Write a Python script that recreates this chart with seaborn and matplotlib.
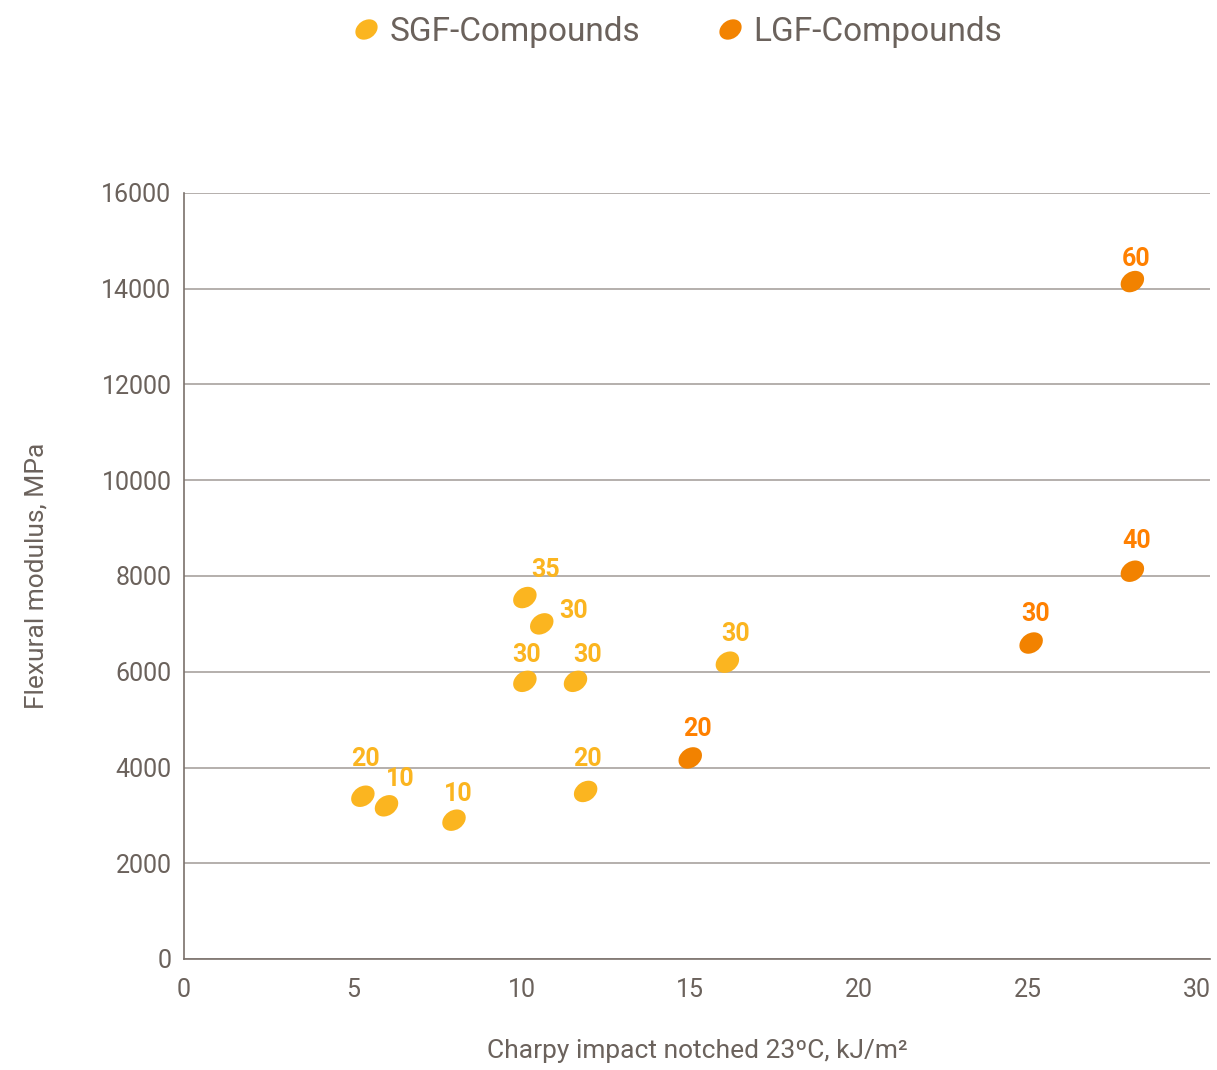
import pandas as pd
import matplotlib.pyplot as plt
import seaborn as sns
from matplotlib.markers import MarkerStyle
from matplotlib.transforms import Affine2D
from matplotlib.lines import Line2D

# data
sgf_impact = [5.3, 6.0, 8.0, 10.1, 10.6, 10.1, 11.6, 11.9, 16.1]
sgf_modulus = [3400, 3200, 2900, 7550, 7000, 5800, 5800, 3500, 6200]
sgf_glass = ["20", "10", "10", "35", "30", "30", "30", "20", "30"]

lgf_impact = [15.0, 25.1, 28.1, 28.1]
lgf_modulus = [4200, 6600, 8100, 14150]
lgf_glass = ["20", "30", "40", "60"]

groups = ["SGF-Compounds", "LGF-Compounds"]
colors = {"SGF-Compounds": "#FBB520", "LGF-Compounds": "#F28200"}
label_colors = {"SGF-Compounds": "#FBB520", "LGF-Compounds": "#FF8000"}

df = pd.DataFrame({
    "impact": sgf_impact + lgf_impact,
    "modulus": sgf_modulus + lgf_modulus,
    "glass": sgf_glass + lgf_glass,
    "group": [groups[0]] * len(sgf_impact) + [groups[1]] * len(lgf_impact),
})

# label offsets in points (dx, dy), same order as df rows
label_offsets = [(2, 27), (10, 19), (3, 19), (15, 20), (23, 9), (1, 19), (9, 19), (1, 23), (6, 20),
                 (5, 21), (3, 21), (3, 22), (3, 16)]

text_color = "#6B625C"
sns.set_style("white")
plt.rcParams["font.family"] = ["Roboto", "DejaVu Sans"]

ellipse = MarkerStyle("o", transform=Affine2D().scale(1.15, 0.88).rotate_deg(35))

fig = plt.figure(figsize=(12.17, 10.7), dpi=100)
ax = fig.add_axes([184 / 1217, 1 - 959 / 1070, (1210 - 184) / 1217, (959 - 193) / 1070])

sns.scatterplot(data=df, x="impact", y="modulus", hue="group", palette=colors,
                hue_order=groups, marker=ellipse, s=250, linewidth=0,
                legend=False, ax=ax, zorder=3)

for (_, row), (dx, dy) in zip(df.iterrows(), label_offsets):
    ax.annotate(row["glass"], (row["impact"], row["modulus"]),
                xytext=(dx, dy), textcoords="offset points",
                ha="center", va="center", fontsize=18, fontweight="bold",
                color=label_colors[row["group"]], zorder=4)

ax.set_xlim(0, 30.4)
ax.set_ylim(0, 16000)
ax.set_xticks(range(0, 31, 5))
ax.set_yticks(range(0, 16001, 2000))
ax.yaxis.grid(True, color="#A8A29E", linewidth=1.2)
ax.set_axisbelow(True)
for side in ["top", "right"]:
    ax.spines[side].set_visible(False)
for side in ["left", "bottom"]:
    ax.spines[side].set_color("#7A716B")
    ax.spines[side].set_linewidth(1.2)
ax.tick_params(axis="both", length=0, labelsize=18, labelcolor=text_color)
ax.tick_params(axis="x", pad=14)
ax.tick_params(axis="y", pad=9)

ax.set_xlabel("Charpy impact notched 23ºC, kJ/m²", fontsize=19, color=text_color, labelpad=26)
ax.set_ylabel("Flexural modulus, MPa", fontsize=19, color=text_color, labelpad=38)

handles = [Line2D([], [], linestyle="none", marker=ellipse, markersize=15,
                  markerfacecolor=colors[g], markeredgewidth=0) for g in groups]
fig.legend(handles, groups, loc="center", bbox_to_anchor=(0.554, 1 - 32 / 1070), ncol=2,
           frameon=False, fontsize=24, labelcolor=text_color, handletextpad=0.1,
           columnspacing=2.1, handlelength=1.2)

plt.savefig("out.png", dpi=100)
